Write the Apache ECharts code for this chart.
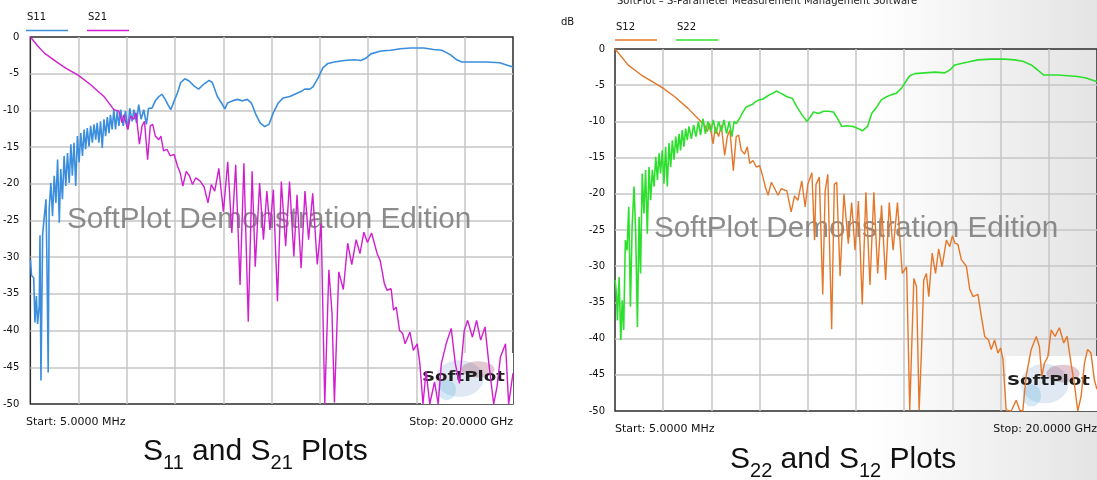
<!DOCTYPE html>
<html>
<head>
<meta charset="utf-8">
<script src="https://cdn.jsdelivr.net/npm/echarts@6/dist/echarts.min.js"></script>
<style>
html,body{margin:0;padding:0;background:#fff;}
#c{width:1097px;height:480px;}
</style>
</head>
<body>
<div id="c"></div>
<script>
// ---- data (x in GHz, y in dB) ----
const yTicks = [0,-5,-10,-15,-20,-25,-30,-35,-40,-45,-50];
const startLabel = 'Start: 5.0000 MHz';
const stopLabel = 'Stop: 20.0000 GHz';
const leftNames = ['S11','S21'];
const rightNames = ['S12','S22'];

const s11 = [[0.005,-30.3],[0.05,-32.5],[0.14,-32.8],[0.19,-38.9],[0.25,-35.3],[0.3,-39.1],[0.37,-36.6],[0.4,-27],[0.44,-46.8],[0.51,-26.9],[0.58,-24.4],[0.65,-22.1],[0.69,-31.2],[0.74,-45.7],[0.78,-23.5],[0.85,-19.9],[0.92,-24.4],[0.99,-18.9],[1.06,-22.6],[1.13,-16.7],[1.2,-25.3],[1.26,-18.0],[1.33,-22.1],[1.4,-16.2],[1.47,-20.3],[1.54,-15.8],[1.61,-19.9],[1.68,-14.6],[1.74,-18.9],[1.81,-14.4],[1.88,-20.3],[1.95,-13.5],[2.02,-17.1],[2.09,-13.1],[2.16,-16.2],[2.23,-12.6],[2.29,-15.3],[2.36,-12.4],[2.43,-14.9],[2.5,-12.1],[2.57,-14.4],[2.64,-11.9],[2.71,-14.0],[2.77,-11.7],[2.84,-14.4],[2.91,-11.5],[2.98,-15.1],[3.05,-11.2],[3.12,-13.5],[3.19,-10.9],[3.26,-13.1],[3.32,-10.6],[3.39,-12.6],[3.46,-9.9],[3.53,-12.6],[3.6,-10.1],[3.67,-12.1],[3.74,-9.9],[3.85,-12.1],[3.94,-10.1],[4.04,-12.6],[4.12,-9.7],[4.22,-11.5],[4.29,-9.9],[4.4,-11.7],[4.49,-9.2],[4.59,-11.2],[4.7,-9.9],[4.81,-11.9],[4.9,-9.7],[4.97,-9.9],[5.04,-9.7],[5.18,-8.7],[5.3,-8.2],[5.45,-7.8],[5.59,-8.5],[5.7,-9.2],[5.82,-9.9],[5.96,-8.7],[6.1,-7.6],[6.23,-6.2],[6.4,-5.7],[6.58,-6.0],[6.79,-6.7],[6.97,-7.1],[7.16,-6.5],[7.41,-5.9],[7.54,-6.2],[7.75,-8.1],[7.96,-9.2],[8.06,-9.8],[8.17,-9.0],[8.37,-8.7],[8.58,-8.5],[8.79,-8.7],[8.99,-8.5],[9.16,-9.0],[9.34,-10.5],[9.52,-11.7],[9.71,-12.2],[9.89,-11.9],[10.07,-10.3],[10.27,-9.0],[10.48,-8.3],[10.75,-8.1],[10.96,-7.8],[11.23,-7.4],[11.37,-7.1],[11.58,-7.1],[11.71,-6.8],[11.92,-5.6],[12.12,-4.2],[12.33,-3.6],[12.6,-3.4],[13.01,-3.2],[13.42,-3.1],[13.7,-3.2],[13.9,-2.9],[14.11,-2.3],[14.52,-1.9],[14.93,-1.8],[15.34,-1.6],[15.75,-1.5],[16.3,-1.5],[16.71,-1.7],[17.05,-1.8],[17.4,-2.4],[17.67,-3.1],[17.88,-3.4],[18.15,-3.4],[18.9,-3.4],[19.45,-3.5],[19.73,-3.8],[20,-4.1]];

const s21 = [[0.005,0],[0.3,-1.2],[0.58,-2.2],[1.13,-3.5],[1.5,-4.3],[1.98,-5.2],[2.5,-6.5],[3.05,-8.1],[3.46,-9.9],[3.67,-10.1],[3.8,-11.7],[3.87,-10.6],[4.04,-12.6],[4.15,-10.8],[4.29,-11.2],[4.38,-10.3],[4.52,-14.6],[4.63,-12.1],[4.73,-11.5],[4.86,-16.7],[4.97,-12.1],[5.07,-11.9],[5.18,-13.5],[5.32,-14.0],[5.41,-13.5],[5.52,-15.5],[5.66,-15.3],[5.8,-16.2],[5.96,-16.0],[6.1,-17.6],[6.21,-18.5],[6.32,-20.3],[6.46,-18.3],[6.59,-18.9],[6.72,-20.1],[6.85,-19.2],[7.03,-19.6],[7.2,-20.4],[7.36,-22.6],[7.5,-20.1],[7.64,-21.0],[7.81,-17.9],[8.0,-23.8],[8.18,-17.0],[8.35,-26.7],[8.51,-17.4],[8.69,-33.8],[8.85,-17.2],[9.03,-38.8],[9.19,-18.3],[9.32,-31.3],[9.5,-19.9],[9.66,-27.6],[9.8,-21.0],[9.93,-26.3],[10.07,-20.8],[10.24,-36.0],[10.4,-19.7],[10.58,-28.5],[10.74,-19.7],[10.92,-29.9],[11.05,-21.5],[11.22,-31.5],[11.38,-21.0],[11.53,-27.6],[11.7,-21.3],[11.89,-31.0],[12.05,-25.4],[12.2,-50],[12.37,-31.7],[12.5,-37.6],[12.6,-49.8],[12.78,-32.0],[12.97,-34.4],[13.15,-28.1],[13.32,-31.0],[13.5,-27.6],[13.66,-29.5],[13.82,-26.6],[13.97,-28.0],[14.14,-26.7],[14.37,-29.5],[14.5,-30.5],[14.67,-33.6],[14.78,-34.5],[14.95,-34.3],[15.05,-37.2],[15.16,-36.8],[15.3,-40.0],[15.43,-40.4],[15.53,-41.8],[15.73,-40.2],[15.87,-42.7],[16.03,-41.8],[16.14,-44.5],[16.27,-50],[16.4,-45.5],[16.55,-50],[16.75,-47.0],[16.9,-50],[17.03,-44.5],[17.23,-41.8],[17.44,-39.7],[17.61,-44.5],[17.78,-47.2],[17.98,-40.0],[18.12,-38.6],[18.32,-40.9],[18.49,-38.6],[18.66,-41.3],[18.84,-39.5],[19.0,-44.5],[19.2,-50],[19.34,-47.6],[19.48,-43.6],[19.69,-41.8],[19.82,-50],[20,-45.8]];

const s12 = [[0.005,0],[0.54,-2.2],[1.09,-3.6],[1.5,-4.4],[1.99,-5.4],[2.48,-6.6],[3.03,-8.2],[3.44,-9.6],[3.72,-10.5],[3.83,-11.4],[3.93,-10.3],[4.07,-13.1],[4.16,-10.8],[4.3,-12.1],[4.41,-10.5],[4.55,-14.7],[4.66,-12.1],[4.77,-11.2],[4.91,-16.8],[5.03,-12.1],[5.13,-11.9],[5.24,-14.0],[5.38,-14.5],[5.49,-13.5],[5.59,-15.8],[5.73,-15.4],[5.86,-16.3],[6.0,-16.1],[6.14,-17.7],[6.24,-19.1],[6.35,-20.2],[6.49,-18.4],[6.63,-19.3],[6.76,-20.2],[6.9,-19.3],[7.13,-19.6],[7.31,-22.5],[7.45,-20.3],[7.59,-20.9],[7.75,-18.2],[7.89,-21.8],[8.0,-18.7],[8.17,-17.1],[8.28,-26.4],[8.34,-18.7],[8.48,-17.7],[8.62,-33.9],[8.72,-19.6],[8.83,-17.3],[8.99,-38.7],[9.1,-18.7],[9.2,-18.4],[9.34,-31.4],[9.5,-20.0],[9.68,-26.9],[9.82,-21.2],[9.96,-27.8],[10.1,-21.0],[10.26,-35.3],[10.41,-19.8],[10.58,-32.6],[10.74,-19.8],[10.9,-31.0],[11.06,-21.6],[11.23,-31.9],[11.38,-21.2],[11.54,-27.8],[11.72,-21.2],[11.92,-31.0],[12.1,-30.1],[12.23,-49.9],[12.4,-31.7],[12.51,-32.8],[12.62,-49.9],[12.72,-41.5],[12.81,-31.9],[12.92,-31.0],[13.02,-34.2],[13.16,-28.2],[13.3,-31.0],[13.43,-27.6],[13.57,-30.1],[13.75,-26.4],[13.89,-27.3],[14.0,-25.8],[14.1,-26.8],[14.23,-27.0],[14.37,-29.1],[14.58,-30.0],[14.72,-33.2],[14.86,-34.2],[15.06,-33.9],[15.2,-36.9],[15.34,-39.7],[15.5,-40.2],[15.61,-41.5],[15.75,-40.2],[15.89,-42.0],[16.0,-41.3],[16.1,-42.9],[16.23,-49.9],[16.44,-50],[16.65,-48.5],[16.79,-49.9],[16.92,-50],[17.06,-45.2],[17.27,-41.5],[17.48,-39.7],[17.61,-41.1],[17.71,-45.2],[17.82,-43.4],[17.96,-42.5],[18.1,-38.8],[18.26,-39.7],[18.44,-38.5],[18.62,-40.6],[18.76,-39.7],[18.92,-43.4],[19.06,-46.2],[19.2,-50],[19.34,-48.0],[19.48,-43.4],[19.61,-41.5],[19.75,-42.0],[19.89,-45.7],[20,-47.0]];

const s22 = [[0.005,-31.9],[0.06,-33.8],[0.1,-37.5],[0.17,-31.5],[0.24,-40.2],[0.3,-34.7],[0.36,-38.8],[0.43,-26.4],[0.5,-27.8],[0.57,-21.8],[0.64,-35.6],[0.71,-24.6],[0.79,-19.0],[0.86,-25.5],[0.93,-38.4],[1.0,-23.2],[1.06,-31.0],[1.13,-17.2],[1.2,-22.7],[1.27,-16.7],[1.34,-25.5],[1.41,-16.3],[1.48,-20.9],[1.55,-16.7],[1.62,-19.0],[1.69,-14.9],[1.76,-18.1],[1.83,-14.4],[1.89,-17.2],[1.96,-14.0],[2.03,-18.6],[2.1,-13.5],[2.17,-19.0],[2.24,-13.0],[2.31,-16.3],[2.38,-12.6],[2.45,-15.3],[2.52,-12.1],[2.59,-14.4],[2.66,-11.7],[2.72,-14.0],[2.79,-11.2],[2.86,-13.5],[2.93,-11.0],[3.0,-12.6],[3.07,-10.7],[3.17,-12.4],[3.26,-10.5],[3.36,-12.1],[3.46,-10.0],[3.55,-11.9],[3.65,-9.6],[3.75,-11.7],[3.86,-10.0],[3.97,-11.4],[4.08,-9.8],[4.19,-11.7],[4.3,-10.0],[4.41,-11.4],[4.52,-9.8],[4.63,-11.7],[4.74,-10.0],[4.85,-12.1],[4.94,-10.0],[5.03,-10.3],[5.17,-9.6],[5.31,-8.7],[5.45,-8.0],[5.59,-7.8],[5.73,-7.6],[5.86,-7.2],[6.0,-7.0],[6.14,-6.9],[6.28,-6.6],[6.42,-6.3],[6.56,-6.1],[6.7,-5.8],[6.87,-6.1],[7.14,-6.6],[7.35,-6.8],[7.55,-8.0],[7.76,-9.1],[7.97,-10.0],[8.1,-9.4],[8.24,-8.7],[8.45,-8.9],[8.65,-8.6],[8.86,-8.6],[9.06,-8.7],[9.2,-9.4],[9.41,-10.7],[9.61,-10.6],[9.89,-10.7],[10.1,-11.0],[10.26,-11.3],[10.48,-10.7],[10.65,-8.9],[10.86,-8.0],[11.06,-7.0],[11.27,-6.6],[11.48,-6.3],[11.68,-6.1],[11.89,-5.4],[12.03,-4.7],[12.23,-3.7],[12.44,-3.4],[12.86,-3.3],[13.27,-3.2],[13.68,-3.3],[13.89,-2.9],[14.1,-2.2],[14.37,-2.0],[14.65,-1.8],[15.06,-1.5],[15.61,-1.4],[16.17,-1.4],[16.58,-1.5],[16.92,-1.7],[17.27,-2.2],[17.54,-2.9],[17.79,-3.6],[18.03,-3.6],[18.37,-3.6],[18.79,-3.7],[19.2,-3.8],[19.54,-4.0],[19.89,-4.4],[20,-4.5]];

// ---- styling ----
const COL = {S11:'#3b8ede', S21:'#d11ed1', S12:'#e5772a', S22:'#2ee02e'};
const WID = {S11:1.6, S21:1.4, S12:1.4, S22:1.6};
const SMALL = 'DejaVu Sans';
const BIG = 'Liberation Sans';

const chart = echarts.init(document.getElementById('c'), null, {renderer:'canvas'});

function measure(txt, size, family){
  const cv = document.createElement('canvas').getContext('2d');
  cv.font = size + 'px "' + family + '"';
  return cv.measureText(txt).width;
}
// caption with subscripts
function caption(x0, yMid, parts){
  const els = [];
  let x = x0;
  parts.forEach(p => {
    const size = p.sub ? 20 : 30;
    els.push({type:'text', x:x, y: yMid + (p.sub ? 11 : 0), silent:true,
      style:{text:p.t, font: size + 'px "' + BIG + '"', fill:'#111', verticalAlign:'middle', align:'left'}});
    x += measure(p.t, size, BIG);
  });
  return els;
}
function legendItem(x, yText, yLine, name){
  return [
    {type:'text', x:x+1, y:yText, silent:true, style:{text:name, font:'10px "'+SMALL+'"', fill:'#111', verticalAlign:'middle'}},
    {type:'line', silent:true, shape:{x1:x, y1:yLine, x2:x+42, y2:yLine}, style:{stroke:COL[name], lineWidth:1.5}}
  ];
}
function logo(x, y, w, h){
  return [
    {type:'rect', z:1, silent:true, shape:{x:x, y:y, width:w, height:h}, style:{fill:'#ffffff'}},
    {type:'ellipse', z:1, silent:true, shape:{cx:x+w*0.42, cy:y+h*0.5, rx:w*0.26, ry:h*0.36}, style:{fill:'rgba(110,150,200,0.22)'}},
    {type:'ellipse', z:1, silent:true, shape:{cx:x+w*0.62, cy:y+h*0.32, rx:w*0.18, ry:h*0.16}, style:{fill:'rgba(140,40,70,0.25)'}},
    {type:'ellipse', z:1, silent:true, shape:{cx:x+w*0.28, cy:y+h*0.72, rx:w*0.1, ry:h*0.2}, style:{fill:'rgba(80,170,220,0.25)'}},
    {type:'text', z:1, silent:true, x:x+1, y:y+h*0.47, scaleX:1.3, style:{text:'SoftPlot', font:'bold 14px "'+SMALL+'"', fill:'#1e1e1e', verticalAlign:'middle'}}
  ];
}

const graphics = [].concat(
  [{type:'rect', z:-5, silent:true, shape:{x:870, y:0, width:227, height:480},
    style:{fill:new echarts.graphic.LinearGradient(0,0,1,0,[{offset:0,color:'rgba(228,228,228,0)'},{offset:1,color:'rgba(228,228,228,1)'}])}}],
  [{type:'text', silent:true, x:617, y:1, style:{text:'SoftPlot \u2013 S-Parameter Measurement Management Software', font:'10px "'+SMALL+'"', fill:'#222', verticalAlign:'middle'}}],
  legendItem(26, 17, 30.5, leftNames[0]),
  legendItem(87, 17, 30.5, leftNames[1]),
  legendItem(615, 27, 40, rightNames[0]),
  legendItem(676, 27, 40, rightNames[1]),
  [{type:'text', silent:true, x:561, y:22, style:{text:'dB', font:'10px "'+SMALL+'"', fill:'#111', verticalAlign:'middle'}}],
  [{type:'text', silent:true, x:26, y:422, style:{text:startLabel, font:'11px "'+SMALL+'"', fill:'#111', verticalAlign:'middle'}},
   {type:'text', silent:true, x:513, y:422, style:{text:stopLabel, font:'11px "'+SMALL+'"', fill:'#111', verticalAlign:'middle', align:'right'}},
   {type:'text', silent:true, x:615, y:429, style:{text:startLabel, font:'11px "'+SMALL+'"', fill:'#111', verticalAlign:'middle'}},
   {type:'text', silent:true, x:1097, y:429, style:{text:stopLabel, font:'11px "'+SMALL+'"', fill:'#111', verticalAlign:'middle', align:'right'}}],
  [{type:'text', silent:true, z:1, x:67, y:220, style:{text:'SoftPlot Demonstration Edition', font:'29.7px "'+BIG+'"', fill:'rgba(128,128,128,0.9)', verticalAlign:'middle'}},
   {type:'text', silent:true, z:1, x:654, y:229, style:{text:'SoftPlot Demonstration Edition', font:'29.7px "'+BIG+'"', fill:'rgba(128,128,128,0.9)', verticalAlign:'middle'}}],
  logo(421, 353, 92, 51),
  logo(1006, 356, 92, 55),
  caption(143, 452, [{t:'S'},{t:'11',sub:true},{t:' and S'},{t:'21',sub:true},{t:' Plots'}]),
  caption(730, 460, [{t:'S'},{t:'22',sub:true},{t:' and S'},{t:'12',sub:true},{t:' Plots'}])
);

function xAx(g){
  return {gridIndex:g, type:'value', min:0, max:20, interval:2,
    axisLabel:{show:false}, axisTick:{show:false}, axisLine:{show:false},
    splitLine:{show:true, showMinLine:false, showMaxLine:false, lineStyle:{color:'#c6c6c6', width:1.5}}};
}
function yAx(g, margin){
  return {gridIndex:g, type:'value', min:yTicks[yTicks.length-1], max:yTicks[0], interval:5,
    axisLabel:{show:true, margin:margin, fontFamily:SMALL, fontSize:10, color:'#111'},
    axisTick:{show:false}, axisLine:{show:false},
    splitLine:{show:true, showMinLine:false, showMaxLine:false, lineStyle:{color:'#c6c6c6', width:1.5}}};
}
function ser(name, data, g){
  return {name:name, type:'line', xAxisIndex:g, yAxisIndex:g, data:data, showSymbol:false, symbol:'none',
    lineStyle:{color:COL[name], width:WID[name]}, itemStyle:{color:COL[name]}, animation:false, clip:true, z:3};
}

chart.setOption({
  backgroundColor:'#ffffff',
  animation:false,
  grid:[
    {left:26, top:37, width:487, height:367, show:true, borderColor:'#2b2b2b', borderWidth:1.5, backgroundColor:'transparent'},
    {left:615, top:49, width:484, height:362, show:true, borderColor:'#2b2b2b', borderWidth:1.5, backgroundColor:'transparent'}
  ],
  xAxis:[xAx(0), xAx(1)],
  yAxis:[yAx(0, 11), yAx(1, 10)],
  series:[ser('S11', s11, 0), ser('S21', s21, 0), ser('S12', s12, 1), ser('S22', s22, 1)],
  graphic:{elements:graphics}
});
</script>
</body>
</html>
